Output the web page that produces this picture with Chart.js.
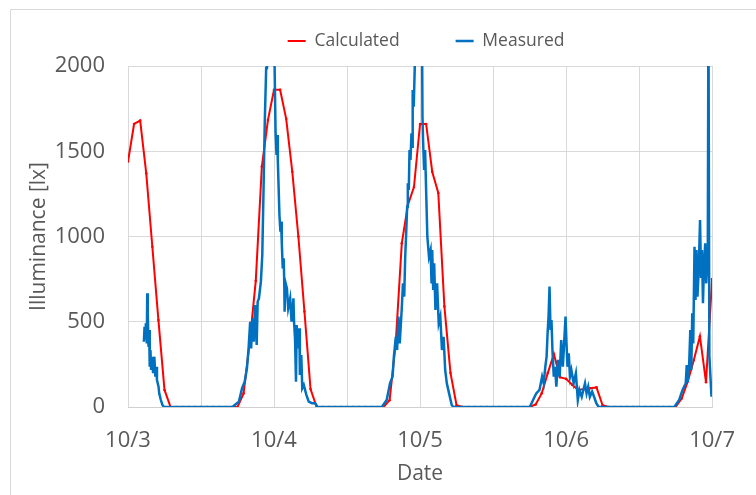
<!DOCTYPE html>
<html>
<head>
<meta charset="utf-8">
<script src="https://cdn.jsdelivr.net/npm/chart.js@4.4.1/dist/chart.umd.min.js"></script>
<style>
  html, body { margin: 0; padding: 0; background: #fff; }
  #wrap { position: relative; width: 756px; height: 495px; }
</style>
</head>
<body>
<div id="wrap"><canvas id="chart"></canvas></div>
<script>
// ---- data (x = hours since 10/3 00:00) ----
const dateLabels = ['10/3', '10/4', '10/5', '10/6', '10/7'];

// hourly calculated illuminance [lx], 10/3 00:00 .. 10/7 00:00
const calcValues = [
  1440, 1660, 1680, 1370, 940, 510, 100, 0, 0, 0, 0, 0,
  0, 0, 0, 0, 0, 0, 0, 80, 380, 740, 1410, 1683,
  1860, 1860, 1690, 1380, 1000, 560, 105, 0, 0, 0, 0, 0,
  0, 0, 0, 0, 0, 0, 0, 40, 375, 960, 1185, 1290,
  1660, 1660, 1380, 1255, 590, 200, 10, 0, 0, 0, 0, 0,
  0, 0, 0, 0, 0, 0, 0, 15, 80, 200, 310, 175,
  165, 130, 100, 105, 110, 115, 10, 0, 0, 0, 0, 0,
  0, 0, 0, 0, 0, 0, 0, 50, 150, 275, 415, 145,
  750
];

// measured illuminance [lx] as [hour, value]
const measured = [
  // 10/3
  [2.61, 383], [2.72, 471], [2.84, 412], [2.93, 491], [3.09, 373], [3.16, 667], [3.25, 550],
  [3.37, 354], [3.48, 452], [3.57, 236], [3.69, 334], [3.80, 217], [4.01, 295], [4.12, 198],
  [4.33, 295], [4.49, 178], [4.65, 236], [4.76, 158], [5.02, 119], [5.13, 80], [5.40, 41],
  [5.66, 12], [5.93, 0],
  // 10/4
  [17.15, 0], [18.22, 31], [18.75, 110], [19.18, 148], [19.55, 227], [19.82, 344], [20.08, 500],
  [20.24, 344], [20.46, 520], [20.67, 383], [20.88, 598], [21.15, 364], [21.31, 618], [21.52, 637],
  [21.84, 735], [22.07, 891], [22.28, 1283], [22.48, 1673], [22.71, 1988], [22.84, 2400], [23.93, 2400],
  [24.25, 1615], [24.41, 1478], [24.52, 1595], [24.63, 1439], [24.89, 1126], [25.05, 1028], [25.16, 1087],
  [25.27, 970], [25.43, 813], [25.59, 872], [25.69, 716], [25.74, 559], [25.85, 735], [26.12, 696],
  [26.33, 579], [26.65, 637], [26.88, 500], [27.19, 637], [27.29, 500], [27.45, 403], [27.61, 148],
  [27.72, 481], [27.93, 344], [28.16, 462], [28.25, 188], [28.48, 305], [28.64, 110], [28.89, 129],
  [29.33, 70], [29.70, 31], [30.24, 22], [30.77, 22], [31.14, 0],
  // 10/5
  [41.71, 0], [42.52, 41], [43.06, 139], [43.48, 178], [43.70, 295], [44.02, 412], [44.23, 334],
  [44.44, 530], [44.66, 373], [44.98, 569], [45.19, 725], [45.40, 647], [45.56, 881], [45.72, 1018],
  [45.88, 1175], [45.99, 1312], [46.15, 1273], [46.27, 1507], [46.43, 1449], [46.59, 1605], [46.68, 1527],
  [46.79, 1859], [46.96, 1761], [47.12, 1977], [47.23, 2400], [48.29, 2400], [48.40, 1703], [48.51, 1547],
  [48.67, 1390], [48.83, 1507], [49.04, 1214], [49.20, 999], [49.47, 881], [49.73, 920], [49.89, 725],
  [50.00, 920], [50.16, 686], [50.32, 843], [50.53, 569], [50.80, 725], [51.07, 491], [51.33, 530],
  [51.60, 334], [51.87, 412], [52.13, 217], [52.40, 139], [52.77, 80], [53.21, 12], [53.48, 0],
  // 10/6
  [66.03, 0], [66.83, 60], [67.10, 80], [67.63, 100], [68.06, 178], [68.32, 139], [68.59, 236],
  [68.80, 295], [68.96, 432], [69.12, 530], [69.28, 706], [69.44, 452], [69.60, 510], [69.76, 334],
  [69.98, 178], [70.19, 236], [70.40, 119], [70.67, 276], [70.95, 178], [71.20, 393], [71.47, 236],
  [71.68, 373], [71.91, 530], [72.07, 373], [72.23, 236], [72.44, 315], [72.64, 178], [72.87, 217],
  [73.24, 139], [73.61, 198], [73.93, 41], [74.20, 100], [74.57, 60], [75.11, 139], [75.37, 80],
  [75.64, 119], [75.91, 60], [76.28, 90], [76.60, 60], [76.97, 22], [77.36, 0],
  // 10/7
  [89.79, 0], [90.59, 41], [91.14, 100], [91.67, 139], [91.83, 246], [91.99, 148], [92.20, 217],
  [92.42, 452], [92.58, 217], [92.74, 550], [92.90, 373], [93.11, 940], [93.27, 628], [93.43, 921],
  [93.59, 647], [93.80, 804], [94.02, 1097], [94.18, 764], [94.34, 921], [94.50, 608], [94.66, 823],
  [94.87, 960], [95.03, 725], [95.19, 843], [95.30, 960], [95.40, 2400], [95.55, 300], [95.90, 60]
];

// ---- chart ----
Chart.defaults.font.family = "'Open Sans', sans-serif";
Chart.defaults.color = '#595959';

const GRID = '#d9d9d9';

// light frame round the whole chart object
const frame = {
  id: 'frame',
  beforeDraw(chart) {
    const ctx = chart.ctx;
    ctx.save();
    ctx.strokeStyle = GRID;
    ctx.lineWidth = 1;
    ctx.beginPath();
    ctx.moveTo(10.5, chart.height);
    ctx.lineTo(10.5, 9.5);
    ctx.lineTo(chart.width, 9.5);
    ctx.stroke();
    ctx.restore();
  }
};

// legend box: fixed height so the plot starts where it should, nudged right
const legendBox = {
  id: 'legendBox',
  beforeInit(chart) {
    const fit = chart.legend.fit;
    chart.legend.fit = function() {
      fit.call(this);
      this.height = 89.75;
    };
  },
  afterLayout(chart) {
    chart.legend.left += 6;
    chart.legend.right += 6;
  }
};

new Chart(document.getElementById('chart'), {
  type: 'line',
  data: {
    datasets: [
      {
        label: 'Calculated',
        data: calcValues.map((v, i) => ({ x: i, y: v })),
        borderColor: '#ff0000',
        backgroundColor: '#ff0000',
        borderWidth: 2,
        pointRadius: 1.3,
        pointBorderWidth: 0,
        pointBackgroundColor: '#ff0000',
        order: 1
      },
      {
        label: 'Measured',
        data: measured.map(p => ({ x: p[0], y: p[1] })),
        borderColor: '#0070c0',
        backgroundColor: '#0070c0',
        borderWidth: 2.5,
        pointRadius: 0,
        order: 0
      }
    ]
  },
  options: {
    responsive: true, maintainAspectRatio: false,
    animation: false,
    layout: { padding: { top: -23.75, left: 0, right: 29, bottom: 0 } },
    plugins: {
      legend: {
        position: 'top', align: 'center', fullSize: false,
        labels: {
          usePointStyle: true, pointStyle: 'line', pointStyleWidth: 18,
          padding: 56, color: '#595959', font: { size: 17.5 },
          sort: (a, b) => a.datasetIndex - b.datasetIndex,
          generateLabels: chart =>
            Chart.defaults.plugins.legend.labels.generateLabels(chart).map(item => {
              const ds = chart.data.datasets[item.datasetIndex];
              return { ...item, strokeStyle: ds.borderColor, lineWidth: ds.borderWidth, pointStyle: 'line' };
            })
        }
      },
      tooltip: { enabled: false }
    },
    scales: {
      x: {
        type: 'linear', min: 0, max: 96,
        grid: { color: GRID, drawTicks: false },
        border: { color: '#d0d0d0' },
        ticks: {
          stepSize: 12, autoSkip: false, maxRotation: 0, padding: 21,
          font: { size: 22 }, color: '#595959',
          callback: v => (v % 24 === 0 ? dateLabels[v / 24] : '')
        },
        title: { display: true, text: 'Date', font: { size: 21 }, color: '#595959', padding: { top: 0, bottom: 8 } },
        afterFit: s => { s.height = 88; }
      },
      y: {
        min: 0, max: 2000,
        grid: { color: GRID, drawTicks: false },
        border: { display: false },
        ticks: { stepSize: 500, padding: 23, font: { size: 22 }, color: '#595959', callback: v => String(v) },
        title: { display: true, text: 'Illuminance [lx]', font: { size: 21 }, color: '#595959', padding: { top: 26, bottom: 0 } },
        afterFit: s => { s.width = 128; }
      }
    }
  },
  plugins: [frame, legendBox]
});
</script>
</body>
</html>
